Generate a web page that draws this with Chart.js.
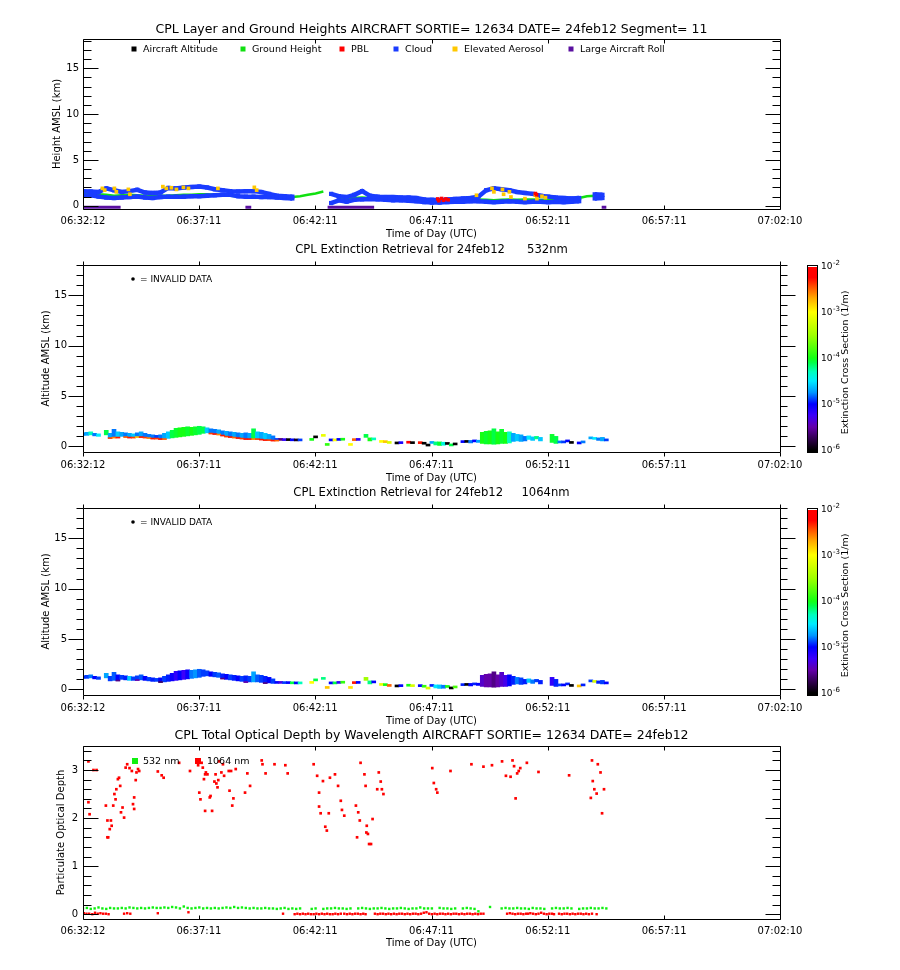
<!DOCTYPE html>
<html><head><meta charset="utf-8">
<script src="https://cdn.jsdelivr.net/npm/chart.js@4.4.1/dist/chart.umd.min.js"></script>
<style>
html,body{margin:0;padding:0;background:#fff;}
body{width:900px;height:970px;position:relative;overflow:hidden;}
.pn{position:absolute;left:0;width:900px;}
</style></head><body>
<div class="pn" style="top:0;height:243px"><canvas id="c1"></canvas></div>
<div class="pn" style="top:243px;height:243px"><canvas id="c2"></canvas></div>
<div class="pn" style="top:486px;height:243px"><canvas id="c3"></canvas></div>
<div class="pn" style="top:729px;height:241px"><canvas id="c4"></canvas></div>
<script>
// ---------- axis ticks (seconds after 06:32:12) ----------
const xTickSec = [0, 299, 599, 899, 1199, 1499, 1798];
const xTickLabels = ['06:32:12','06:37:11','06:42:11','06:47:11','06:52:11','06:57:11','07:02:10'];
const kmMajor = [0,5,10,15];
const kmMinor = [0,1,2,3,4,5,6,7,8,9,10,11,12,13,14,15,16,17,18];
const odMajor = [0,1,2,3];
const odMinor = [0,0.2,0.4,0.6,0.8,1,1.2,1.4,1.6,1.8,2,2.2,2.4,2.6,2.8,3,3.2,3.4];
const cbDecades = [-2,-3,-4,-5,-6];

// ---------- panel 1 : layer heights (20 s samples) ----------
const cloudT = [0,20,40,60,80,100,120,140,160,180,200,220,240,260,280,300,320,340,360,380,400,420,440,460,480,500,520,540,560,580,600,620,640,660,680,700,720,740,760,780,800,820,840,860,880,900,920,940,960,980,1000,1020,1040,1060,1080,1100,1120,1140,1160,1180,1200,1220,1240,1260,1280,1300,1320,1340];
const cloudTopKm = [1.6,1.55,1.5,1.9,1.7,1.5,1.6,1.75,1.45,1.4,1.45,1.95,1.9,2.0,2.05,2.1,2.0,1.8,1.7,1.6,1.55,1.6,1.6,1.5,1.3,1.1,1.05,1.0,null,null,null,null,1.3,1.05,0.95,1.2,1.6,1.1,1.0,0.95,0.95,0.9,0.9,0.85,0.7,0.65,0.6,0.7,0.75,0.8,0.85,1.0,1.7,1.9,1.8,1.7,1.5,1.4,1.3,1.1,1.0,0.9,0.85,0.8,0.85,null,1.25,1.2];
const cloudBaseKm = [1.1,1.15,1.0,0.9,0.85,0.9,0.95,1.0,0.9,0.85,0.95,1.0,1.0,1.0,1.05,1.05,1.1,1.15,1.2,1.2,1.05,1.0,1.0,0.95,0.95,0.9,0.85,0.8,null,null,null,null,0.3,0.6,0.45,0.65,0.7,0.75,0.7,0.65,0.6,0.6,0.55,0.5,0.4,0.35,0.35,0.4,0.45,0.45,0.5,0.5,0.45,0.4,0.45,0.5,0.45,0.4,0.45,0.45,0.4,0.45,0.4,0.45,0.5,null,0.8,0.85];
const groundKm = [1.3,1.35,1.25,1.2,1.1,1.15,1.2,1.15,1.1,1.05,1.1,1.1,1.15,1.2,1.2,1.25,1.25,1.2,1.15,1.1,1.05,1.0,1.0,1.0,0.95,0.95,0.95,0.95,1.05,1.2,1.35,1.55,null,0.85,0.7,0.85,0.9,0.85,0.8,0.8,0.75,0.8,0.7,0.65,0.55,0.5,0.5,0.55,0.6,0.65,0.7,0.7,0.65,0.6,0.65,0.7,0.65,0.7,0.7,0.65,0.6,0.65,0.7,0.75,0.85,1.05,1.1,1.05];
const aerosolT = [50,56,81,86,117,121,206,215,228,241,259,272,348,442,448,1015,1055,1060,1082,1085,1100,1104,1140,1167,1171,1184,1193];
const aerosolKm = [1.90,1.71,1.90,1.52,1.79,1.26,2.09,1.90,1.97,1.79,2.01,1.90,1.90,2.01,1.71,1.15,1.90,1.52,1.79,1.26,1.52,0.96,0.78,1.15,0.78,1.04,0.89];
const pblT = [915,918,925,930,936,942,1167,1170];
const pblKm = [0.75,0.55,0.8,0.6,0.75,0.65,1.34,1.2];
const aircraftT = [];
const aircraftKm = [];
const rollStartT = [0,419,631,1338];
const rollEndT = [97,434,751,1350];

// ---------- panels 2/3 : extinction curtains (10 s columns) ----------
const timeSec = [0,10,20,30,40,50,60,70,80,90,100,110,120,130,140,150,160,170,180,190,200,210,220,230,240,250,260,270,280,290,300,310,320,330,340,350,360,370,380,390,400,410,420,430,440,450,460,470,480,490,500,510,520,530,540,550,560,570,580,590,600,610,620,630,640,650,660,670,680,690,700,710,720,730,740,750,760,770,780,790,800,810,820,830,840,850,860,870,880,890,900,910,920,930,940,950,960,970,980,990,1000,1010,1020,1030,1040,1050,1060,1070,1080,1090,1100,1110,1120,1130,1140,1150,1160,1170,1180,1190,1200,1210,1220,1230,1240,1250,1260,1270,1280,1290,1300,1310,1320,1330,1340,1350];
const layerTopKm = [1.35,1.40,1.45,1.30,1.25,null,1.60,1.30,1.70,1.45,1.40,1.35,1.30,1.25,1.35,1.45,1.30,1.20,1.15,1.10,1.15,1.30,1.45,1.60,1.80,1.85,1.90,1.95,1.90,1.95,2.00,1.95,1.85,1.75,1.70,1.65,1.55,1.50,1.45,1.40,1.35,1.30,1.35,1.30,1.75,1.45,1.40,1.30,1.20,1.05,0.75,0.68,0.66,0.66,0.64,0.62,0.62,null,null,0.68,0.95,null,1.15,0.30,0.70,0.65,0.75,0.72,null,0.20,0.65,0.72,null,1.20,0.85,0.75,null,0.50,0.45,0.40,null,0.30,0.35,null,0.40,0.35,null,0.36,0.30,0.12,0.40,0.45,0.45,0.42,0.30,0.25,0.22,null,0.45,0.48,0.60,0.55,0.62,1.40,1.50,1.55,1.75,1.45,1.70,1.40,1.45,1.30,1.20,1.15,1.00,1.05,0.95,1.00,0.90,null,null,1.20,1.00,0.50,0.45,0.55,0.40,null,0.35,0.45,null,0.95,0.90,0.85,0.90,0.75];
const layerBaseKm = [1.10,1.10,1.15,1.05,1.00,null,1.15,0.85,0.90,0.90,1.00,0.95,0.90,0.90,0.95,0.95,0.90,0.85,0.80,0.80,0.75,0.75,0.80,0.85,0.90,0.95,1.00,1.05,1.10,1.15,1.20,1.30,1.35,1.30,1.25,1.20,1.10,1.00,0.95,0.90,0.85,0.80,0.75,0.75,0.75,0.75,0.70,0.65,0.65,0.60,0.60,0.60,0.58,0.58,0.56,0.55,0.55,null,null,0.60,0.85,null,1.00,0.10,0.55,0.55,0.60,0.62,null,0.10,0.58,0.60,null,0.90,0.55,0.65,null,0.40,0.38,0.30,null,0.25,0.28,null,0.32,0.28,null,0.28,0.22,0.04,0.30,0.15,0.10,0.12,0.20,0.05,0.15,null,0.38,0.40,0.35,0.45,0.40,0.30,0.25,0.25,0.22,0.25,0.30,0.30,0.35,0.50,0.55,0.50,0.55,0.70,0.60,0.75,0.55,null,null,0.40,0.30,0.35,0.35,0.45,0.30,null,0.25,0.35,null,0.75,0.70,0.60,0.55,0.55];
const logExt532 = [-4.8,-4.7,-4.3,-4.8,-4.5,null,-4.1,-4.7,-4.8,-4.6,-4.7,-4.8,-4.7,-4.6,-4.8,-4.7,-4.8,-4.8,-4.8,-4.9,-4.8,-4.7,-4.6,-4.1,-4.05,-4.0,-4.0,-4.05,-4.0,-4.05,-4.1,-4.1,-4.6,-4.8,-4.8,-4.7,-4.8,-4.7,-4.8,-4.7,-4.8,-4.7,-4.8,-4.7,-4.1,-4.6,-4.7,-4.6,-4.7,-4.8,-4.9,-5.6,-5.2,-6.0,-5.0,-5.9,-4.9,null,null,-4.0,-6.0,null,-3.1,-3.9,-5.0,-3.0,-5.0,-4.0,null,-3.0,-2.5,-5.2,null,-4.1,-4.0,-4.3,null,-3.0,-2.8,-3.2,null,-6.0,-5.1,null,-2.2,-6.0,null,-2.3,-6.0,-6.0,-4.7,-4.2,-4.05,-4.4,-6.0,-4.1,-6.0,null,-5.0,-6.0,-4.8,-5.0,-4.7,-4.0,-4.05,-4.0,-4.1,-4.0,-4.05,-4.0,-4.3,-4.7,-4.6,-4.7,-4.8,-4.5,-4.6,-4.2,-4.6,null,null,-4.05,-4.1,-4.8,-4.9,-5.0,-6.0,null,-5.0,-4.8,null,-4.7,-4.5,-4.8,-4.7,-4.9];
const logExt1064 = [-4.95,-4.9,-4.8,-5.0,-4.9,null,-4.7,-4.9,-4.85,-5.0,-4.9,-4.95,-4.6,-4.9,-4.9,-4.85,-5.0,-4.9,-4.95,-4.9,-5.0,-4.9,-4.95,-5.05,-5.2,-5.0,-5.25,-5.05,-4.8,-4.75,-4.85,-4.9,-4.9,-5.0,-4.9,-4.85,-4.95,-5.0,-4.9,-4.95,-5.0,-4.9,-4.95,-4.9,-4.7,-4.85,-4.9,-4.95,-5.0,-4.9,-5.0,-5.3,-4.9,-5.0,-4.1,-5.0,-4.3,null,null,-3.0,-4.1,null,-4.2,-2.8,-5.0,-4.1,-5.2,-3.9,null,-2.9,-2.3,-5.0,null,-3.5,-4.2,-5.0,null,-3.1,-4.0,-2.5,null,-6.0,-5.0,null,-4.0,-3.2,null,-5.0,-3.9,-3.2,-4.95,-4.5,-4.6,-4.8,-4.0,-6.0,-3.8,null,-4.95,-6.0,-5.0,-4.95,-5.0,-5.4,-5.5,-5.5,-5.6,-5.5,-5.4,-5.3,-5.0,-4.95,-4.8,-4.9,-4.95,-4.6,-4.8,-4.9,-4.95,null,null,-5.2,-4.95,-4.9,-5.0,-4.95,-6.0,null,-2.8,-4.95,null,-4.9,-3.2,-4.95,-4.9,-5.0];
const baseLayer532T = [70,80,90,110,120,130,140,150,160,170,180,190,200,210,330,340,350,360,370,380,390,400,410,420,430,440,450,460,470,480,490,500];
const baseLayer532E = [-2.4,-2.6,-2.3,-2.5,-2.3,-2.4,-2.8,-2.3,-2.4,-2.6,-2.3,-2.4,-2.3,-2.5,-2.4,-2.3,-2.6,-2.3,-2.4,-2.3,-2.5,-2.3,-2.4,-2.3,-2.3,-2.6,-2.4,-2.3,-2.3,-2.4,-2.3,-2.5];
const baseLayer1064T = [90,140,200,360,420,470];
const baseLayer1064E = [-5.6,-5.5,-5.7,-5.6,-5.5,-5.6];

// ---------- panel 4 : optical depth ----------
const od532 = [0.12,0.13,0.11,0.12,0.14,0.12,0.11,0.13,0.12,0.12,0.13,0.12,0.14,0.13,0.12,0.13,0.12,0.13,0.14,0.13,0.13,0.14,0.13,0.15,0.14,0.12,0.16,0.13,0.12,0.13,0.14,0.12,0.13,0.12,0.13,0.12,0.13,0.14,0.13,0.15,0.13,0.14,0.13,0.12,0.13,0.12,0.12,0.13,0.12,0.12,0.11,0.12,0.13,0.11,0.12,0.11,0.12,null,null,0.11,0.12,null,0.11,0.12,0.12,0.13,0.12,0.12,0.11,0.12,null,0.12,0.13,0.12,0.11,0.12,0.12,0.13,0.12,0.11,0.12,0.12,0.13,0.12,0.11,0.12,0.12,0.14,0.12,0.12,0.12,null,0.13,0.12,0.12,0.11,0.12,null,0.12,0.13,0.12,0.11,0.06,null,null,0.15,null,null,0.12,0.13,0.12,0.12,0.13,0.12,0.12,0.11,0.13,0.12,0.12,0.11,null,0.12,0.13,0.12,0.12,0.13,0.12,null,0.11,0.12,0.12,0.13,0.12,0.12,0.13,0.12];
const od1064T = [14,14,17,27,35,59,63,63,65,69,72,74,78,81,84,86,90,93,96,98,102,106,110,114,120,126,129,132,132,136,138,142,145,193,203,208,248,276,297,300,303,306,309,312,315,315,317,321,327,329,333,339,342,344,347,349,351,357,361,364,376,378,382,385,388,394,418,424,431,461,463,471,494,522,528,595,604,609,609,613,619,625,629,634,637,650,658,665,668,674,704,707,710,714,716,726,729,731,732,735,738,743,747,759,763,768,771,775,901,905,911,914,948,1002,1033,1055,1081,1091,1103,1108,1112,1116,1120,1124,1128,1145,1175,1254,1310,1313,1315,1319,1325,1328,1335,1339,1344];
const od1064 = [3.18,2.33,2.08,3.0,3.0,2.26,1.95,1.60,1.60,1.77,1.95,1.84,2.26,2.50,2.39,2.60,2.81,2.84,2.67,2.12,2.22,2.01,3.05,3.12,3.04,2.98,2.29,2.19,2.43,2.79,2.95,3.02,2.98,2.97,2.89,2.84,3.15,2.98,3.10,2.53,2.39,3.15,3.05,2.81,2.91,2.15,2.95,2.91,2.43,2.46,2.15,2.76,2.91,2.72,2.64,2.79,3.18,2.95,3.12,2.88,2.98,2.57,2.98,2.26,2.41,3.02,2.53,2.93,2.67,3.20,3.12,2.93,3.12,3.10,2.93,3.12,2.88,2.53,2.24,2.10,2.77,1.82,1.74,2.10,2.84,2.91,2.67,2.36,2.17,2.05,2.26,1.60,2.12,1.95,3.15,2.91,2.67,1.70,1.84,1.67,1.46,1.46,1.98,2.60,2.95,2.76,2.60,2.50,3.04,2.73,2.60,2.53,2.98,3.12,3.07,3.10,3.18,2.88,2.86,3.20,3.08,2.41,2.93,2.98,3.04,3.15,2.96,2.89,2.42,3.20,2.77,2.60,2.51,3.12,2.95,2.10,2.60];
const od1064LowT = [2,9,16,24,31,38,45,52,59,66,106,114,122,193,272,516,546,553,560,567,574,581,588,595,602,609,616,623,630,637,644,651,658,665,674,681,688,695,702,709,716,723,729,753,760,767,774,781,788,795,802,809,816,823,830,837,844,851,858,865,872,879,886,893,900,907,914,921,928,935,942,949,956,963,970,977,984,991,998,1005,1012,1019,1026,1033,1094,1101,1108,1115,1122,1129,1136,1143,1148,1154,1161,1168,1175,1182,1189,1196,1203,1210,1215,1228,1235,1242,1249,1256,1263,1270,1277,1284,1291,1298,1305,1313,1325];
const od1064Low = [0.02,0.01,0.01,0.00,0.03,0.01,0.02,0.01,0.01,0.00,0.01,0.02,0.01,0.02,0.04,0.01,0.00,0.01,0.00,0.01,0.00,0.01,0.00,0.00,0.01,0.00,0.01,0.00,0.01,0.00,0.00,0.01,0.00,0.01,0.01,0.00,0.01,0.00,0.01,0.01,0.00,0.01,0.00,0.01,0.00,0.01,0.01,0.00,0.01,0.00,0.01,0.00,0.01,0.01,0.00,0.01,0.00,0.01,0.01,0.00,0.01,0.03,0.04,0.01,0.00,0.01,0.00,0.01,0.01,0.00,0.01,0.00,0.01,0.01,0.00,0.01,0.00,0.01,0.01,0.00,0.01,0.00,0.01,0.01,0.01,0.02,0.01,0.00,0.01,0.01,0.00,0.01,0.01,0.02,0.01,0.00,0.01,0.03,0.01,0.00,0.01,0.01,0.00,0.01,0.00,0.01,0.01,0.00,0.01,0.00,0.01,0.01,0.00,0.01,0.00,0.01,0.00];

// ---------- styles ----------
const FONT = "'DejaVu Sans', sans-serif";
Chart.defaults.font.family = FONT;
Chart.defaults.font.size = 10;
Chart.defaults.color = '#000';
const COL = {aircraft:'#000000', ground:'#10e010', pbl:'#ff0000', cloud:'#1a3cff', aerosol:'#ffc800', roll:'#5a10a0', g532:'#10f010', r1064:'#ff0000'};
const CMAP_STOPS = [[-6,0,0,0],[-5.75,50,0,80],[-5.5,100,0,170],[-5.25,60,0,250],[-5,0,0,255],[-4.75,0,150,255],[-4.5,0,235,255],[-4.3,0,255,190],[-4.1,0,255,70],[-4,20,255,20],[-3.5,160,255,0],[-3,255,255,0],[-2.7,255,170,0],[-2.45,255,80,0],[-2.25,255,0,0],[-2,255,0,0]];
function cmap(v){
  v = Math.max(-6, Math.min(-2, v));
  for (let i=1;i<CMAP_STOPS.length;i++){
    const a=CMAP_STOPS[i-1], b=CMAP_STOPS[i];
    if (v<=b[0]){ const f=(v-a[0])/(b[0]-a[0]);
      return 'rgb('+Math.round(a[1]+f*(b[1]-a[1]))+','+Math.round(a[2]+f*(b[2]-a[2]))+','+Math.round(a[3]+f*(b[3]-a[3]))+')'; }
  }
  return 'rgb(255,0,0)';
}
const pts = (T,V)=>T.map((t,i)=>({x:t,y:V[i]}));

function baseOptions(o){
  return {
    responsive:true, maintainAspectRatio:false, animation:false, events:[],
    layout:{padding:{left:0,right:120,top:o.padTop,bottom:0}},
    plugins:{legend:{display:false},tooltip:{enabled:false},title:{display:false}},
    scales:{
      x:{type:'linear',min:0,max:1798,offset:false,
        afterBuildTicks:s=>{s.ticks=xTickSec.map(v=>({value:v}));},
        afterFit:s=>{s.height=o.xH;},
        grid:{display:false,drawTicks:false}, border:{display:false},
        ticks:{autoSkip:false,maxRotation:0,minRotation:0,padding:o.xPad,font:{size:10,family:FONT},color:'#000',callback:(v,i)=>xTickLabels[i]}},
      y:{type:'linear',min:o.yMin,max:o.yMax,
        afterBuildTicks:s=>{s.ticks=o.yMajor.map(v=>({value:v}));},
        afterFit:s=>{s.width=83;},
        grid:{display:false,drawTicks:false}, border:{display:false},
        ticks:{autoSkip:false,padding:o.yPad,font:{size:10,family:FONT},color:'#000',callback:v=>String(v)}}
    }
  };
}

function framePlugin(o){
  return {id:'frame', afterDraw(chart){
    const c=chart.ctx, a=chart.chartArea, xs=chart.scales.x, ys=chart.scales.y;
    const L=Math.round(a.left), R=Math.round(a.right), T=Math.round(a.top), B=Math.round(a.bottom);
    c.save();
    c.strokeStyle='#000'; c.lineWidth=1;
    c.beginPath();
    c.rect(L+0.5,T+0.5,R-L,B-T);
    const d=o.out?-1:1;
    xTickSec.forEach(v=>{const x=Math.round(xs.getPixelForValue(v))+0.5;
      c.moveTo(x,B+0.5); c.lineTo(x,B+0.5-d*4); c.moveTo(x,T+0.5); c.lineTo(x,T+0.5+d*4);});
    o.yMinor.forEach(v=>{const y=Math.round(ys.getPixelForValue(v))+0.5;
      const len=o.yMajor.includes(v)?15:(o.out?7:8);
      c.moveTo(L+0.5,y); c.lineTo(L+0.5+d*len,y); c.moveTo(R+0.5,y); c.lineTo(R+0.5-d*len,y);});
    c.stroke();
    c.fillStyle='#000'; c.textAlign='center'; c.textBaseline='middle';
    c.font=o.titleFont; c.fillText(o.title,(L+R)/2,o.titleY);
    c.font='10px '+FONT; c.fillText('Time of Day (UTC)',(L+R)/2,o.xTitleY);
    c.save(); c.translate(o.yTitleX,(T+B)/2); c.rotate(-Math.PI/2); c.fillText(o.yTitle,0,0); c.restore();
    if (o.extra) o.extra(chart,c,{L,R,T,B});
    c.restore();
  }};
}

function drawLegend(c, items, y){
  c.font='9.5px '+FONT; c.textAlign='left'; c.textBaseline='middle';
  items.forEach(it=>{ c.fillStyle=it.color; c.fillRect(it.x-2.5,y-2.5,5,5); c.fillStyle='#000'; c.fillText(it.label,it.x+9,y+0.5); });
}

function colorbarExtra(chart,c,b){
  const x0=808,w=9,T=b.T,B=b.B;
  const y2=T+1, y6=B-2;
  for(let y=T;y<=B;y++){
    const v=-2-4*(y+0.5-y2)/(y6-y2);
    c.fillStyle = (y<T+2)?'#ffffff':cmap(v);
    c.fillRect(x0,y,w,1);
  }
  c.strokeStyle='#000'; c.lineWidth=1; c.strokeRect(x0-0.5,T+0.5,w+1,B-T);
  c.fillStyle='#000'; c.textAlign='left'; c.textBaseline='middle';
  cbDecades.forEach(e=>{
    const y=y2+(-2-e)/4*(y6-y2);
    c.font='9px '+FONT; c.fillText('10',821,y+1);
    const w10=c.measureText('10').width;
    c.font='7px '+FONT; c.fillText(String(e),821+w10+0.5,y-3);
  });
  c.font='9.5px '+FONT; c.textAlign='center';
  c.save(); c.translate(845.5,(T+B)/2+4); c.rotate(-Math.PI/2); c.fillText('Extinction Cross Section (1/m)',0,0); c.restore();
  c.beginPath(); c.arc(133,T+14,1.8,0,Math.PI*2); c.fill();
  c.font='9px '+FONT; c.textAlign='left'; c.fillText('= INVALID DATA',140,T+14.5);
}

// ---------- panel 1 ----------
const rollData=[]; rollStartT.forEach((s,i)=>{rollData.push({x:s,y:-0.15},{x:rollEndT[i],y:-0.15},{x:rollEndT[i]+1,y:null});});
new Chart(document.getElementById('c1'),{
  type:'scatter',
  data:{datasets:[
    {label:'PBL',data:pts(pblT,pblKm),backgroundColor:COL.pbl,pointStyle:'rect',pointRadius:2.5,borderWidth:0},
    {label:'Elevated Aerosol',data:pts(aerosolT,aerosolKm),backgroundColor:COL.aerosol,pointStyle:'rect',pointRadius:2.6,borderWidth:0},
    {label:'Aircraft Altitude',data:pts(aircraftT,aircraftKm),backgroundColor:COL.aircraft,pointStyle:'rect',pointRadius:2.5},
    {label:'Cloud',data:pts(cloudT,cloudTopKm),showLine:true,borderColor:COL.cloud,borderWidth:4.5,pointStyle:'rect',pointRadius:3,backgroundColor:COL.cloud,pointBorderWidth:0,spanGaps:false},
    {label:'Cloud base',data:pts(cloudT,cloudBaseKm),showLine:true,borderColor:COL.cloud,borderWidth:4.5,pointStyle:'rect',pointRadius:3,backgroundColor:COL.cloud,pointBorderWidth:0,spanGaps:false},
    {label:'Ground Height',data:pts(cloudT,groundKm),showLine:true,borderColor:COL.ground,borderWidth:2.5,pointRadius:0,spanGaps:false},
    {label:'Large Aircraft Roll',data:rollData,showLine:true,borderColor:COL.roll,borderWidth:3,pointRadius:0,spanGaps:false}
  ]},
  options:baseOptions({padTop:39,xH:34,xPad:6,yMin:-0.35,yMax:18.2,yMajor:kmMajor,yPad:4}),
  plugins:[framePlugin({out:false,yMinor:kmMinor,yMajor:kmMajor,titleFont:'12.5px '+FONT,
    title:'CPL Layer and Ground Heights AIRCRAFT SORTIE= 12634 DATE= 24feb12 Segment= 11',titleY:30,xTitleY:234,
    yTitle:'Height AMSL (km)',yTitleX:57,
    extra:(ch,c)=>drawLegend(c,[
      {x:134,label:'Aircraft Altitude',color:COL.aircraft},{x:243,label:'Ground Height',color:COL.ground},
      {x:342,label:'PBL',color:COL.pbl},{x:396,label:'Cloud',color:COL.cloud},
      {x:455,label:'Elevated Aerosol',color:COL.aerosol},{x:571,label:'Large Aircraft Roll',color:COL.roll}],49)})]
});

// ---------- panels 2/3 ----------
function curtain(ext, baseT, baseE){
  const main=[],mainC=[],base=[],baseC=[];
  timeSec.forEach((t,i)=>{ if(layerTopKm[i]==null||ext[i]==null) return;
    main.push({x:t,y:[layerBaseKm[i],layerTopKm[i]]}); mainC.push(cmap(ext[i])); });
  baseT.forEach((t,j)=>{ const i=timeSec.indexOf(t); if(i<0||layerBaseKm[i]==null) return;
    base.push({x:t,y:[layerBaseKm[i]-0.07,layerBaseKm[i]+0.02]}); baseC.push(cmap(baseE[j])); });
  return [
    {label:'base',data:base,backgroundColor:baseC,barThickness:4,grouped:false,borderWidth:0,minBarLength:1},
    {label:'extinction',data:main,backgroundColor:mainC,barThickness:4,grouped:false,borderWidth:0,minBarLength:2}
  ];
}
function curtainChart(id, ext, bT, bE, title){
  new Chart(document.getElementById(id),{
    type:'bar',
    data:{datasets:curtain(ext,bT,bE)},
    options:baseOptions({padTop:17,xH:34,xPad:7,yMin:-0.55,yMax:18,yMajor:kmMajor,yPad:16}),
    plugins:[framePlugin({out:true,yMinor:kmMinor,yMajor:kmMajor,titleFont:'11.6px '+FONT,
      title:title,titleY:7,xTitleY:235,yTitle:'Altitude AMSL (km)',yTitleX:46,extra:colorbarExtra})]
  });
}
curtainChart('c2',logExt532,baseLayer532T,baseLayer532E,'CPL Extinction Retrieval for 24feb12      532nm');
curtainChart('c3',logExt1064,baseLayer1064T,baseLayer1064E,'CPL Extinction Retrieval for 24feb12     1064nm');

// ---------- panel 4 ----------
new Chart(document.getElementById('c4'),{
  type:'scatter',
  data:{datasets:[
    {label:'1064 nm',data:pts(od1064T,od1064),backgroundColor:COL.r1064,pointStyle:'rect',pointRadius:1.9,borderWidth:0},
    {label:'532 nm',data:pts(timeSec,od532),backgroundColor:COL.g532,pointStyle:'rect',pointRadius:1.7,borderWidth:0},
    {label:'1064 nm low',data:pts(od1064LowT,od1064Low),backgroundColor:COL.r1064,pointStyle:'rect',pointRadius:1.7,borderWidth:0}
  ]},
  options:baseOptions({padTop:17,xH:51,xPad:6,yMin:-0.1,yMax:3.5,yMajor:odMajor,yPad:5}),
  plugins:[framePlugin({out:false,yMinor:odMinor,yMajor:odMajor,titleFont:'12.5px '+FONT,
    title:'CPL Total Optical Depth by Wavelength AIRCRAFT SORTIE= 12634 DATE= 24feb12',titleY:7,xTitleY:214,
    yTitle:'Particulate Optical Depth',yTitleX:61,
    extra:(ch,c)=>{c.font='9.5px '+FONT; c.textAlign='left'; c.textBaseline='middle';
      c.fillStyle=COL.g532; c.fillRect(132,29,6,6); c.fillStyle='#000'; c.fillText('532 nm',143,32.5);
      c.fillStyle=COL.r1064; c.fillRect(195,29,6,6); c.fillStyle='#000'; c.fillText('1064 nm',207,32.5);}})]
});
</script>
</body></html>
